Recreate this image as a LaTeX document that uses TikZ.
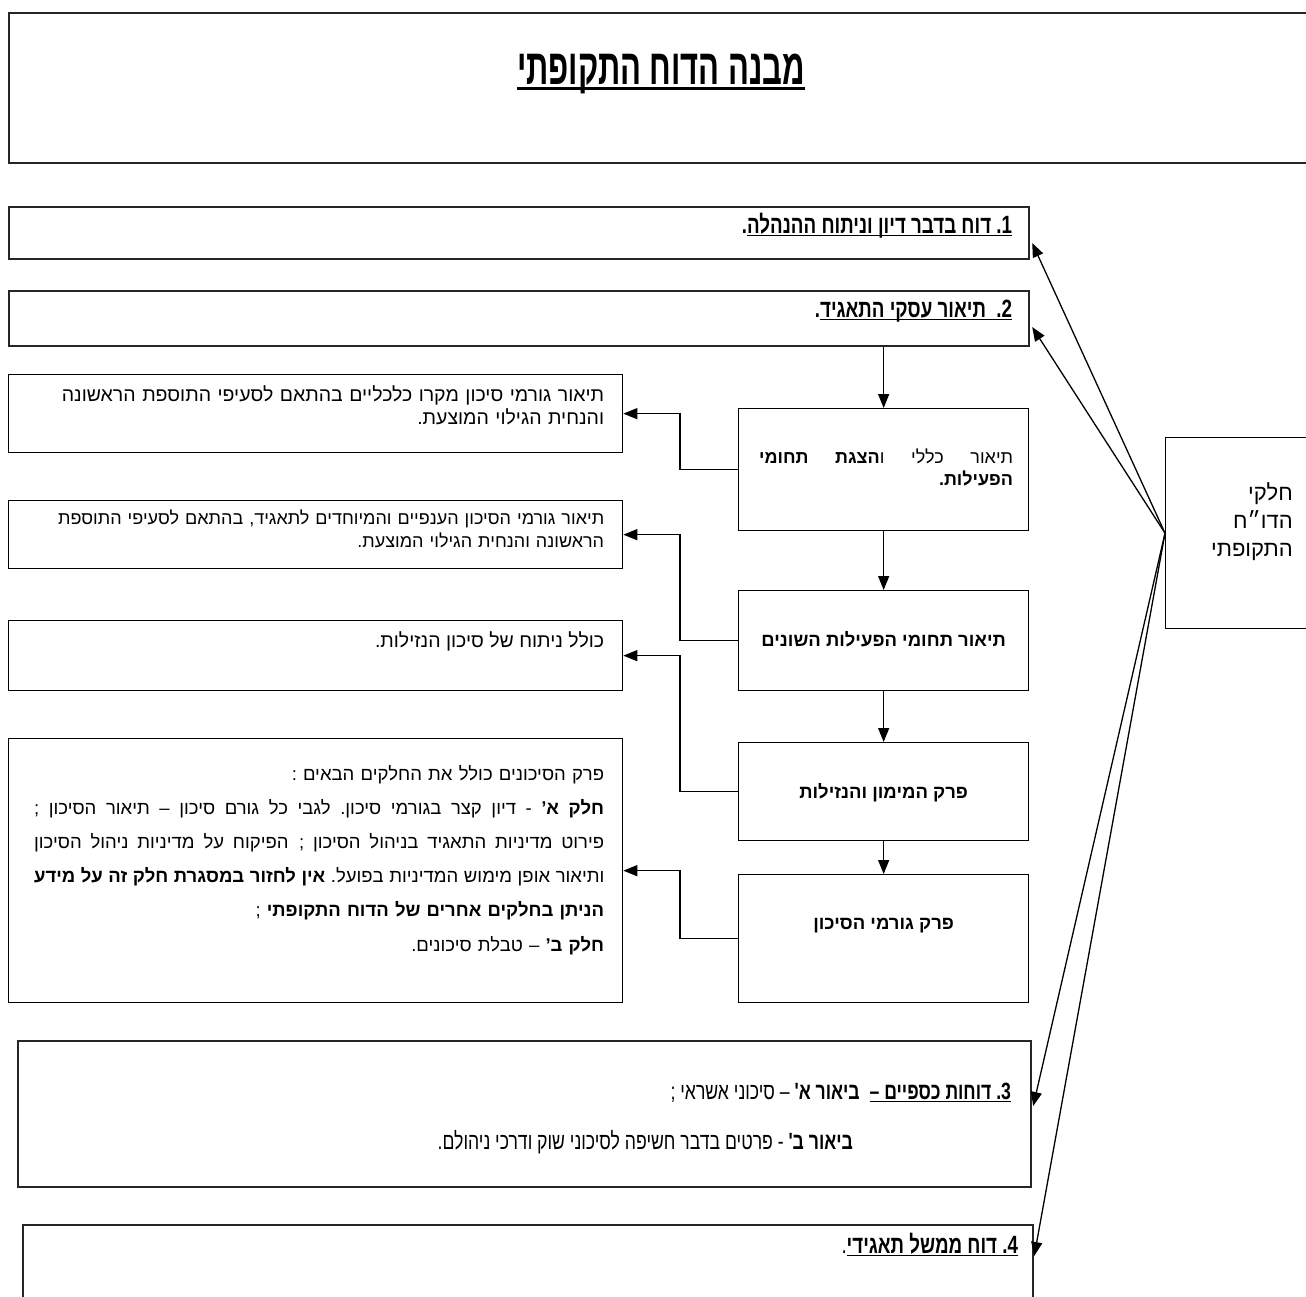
\documentclass[tikz,border=0pt]{standalone}
\usepackage{fontspec}
\setmainfont[Script=Hebrew]{Liberation Sans}
\newfontfamily\narrowfont[Script=Hebrew,FakeStretch=0.75]{Liberation Sans}
\newfontfamily\titlefont[Script=Hebrew,FakeStretch=0.62]{Liberation Sans}
\usetikzlibrary{arrows.meta,positioning,calc}
\TeXXeTstate=1

% right-to-left helpers
\newcommand{\heb}[1]{\beginR #1\endR}
\newcommand{\jline}[1]{\leavevmode\hbox to \hsize{\spaceskip=.3em plus 1fil\beginR #1\endR}}
\newcommand{\rdot}{\hbox{.}}
\newcommand{\rcom}{\hbox{,}}
\newcommand{\rap}{\hbox{'}}
\newcommand{\ulbox}[3]{\hbox{\setbox0=\hbox{#3}\rlap{\rule[-#2]{\wd0}{#1}}\box0}}
\newcommand{\headfont}{\narrowfont\bfseries\fontsize{25}{30}\selectfont}
\newcommand{\boldbox}{\bfseries\fontsize{18.5}{22}\selectfont}

\begin{document}
\begin{tikzpicture}[x=1pt,y=-1pt,
    box/.style={draw,line width=1.3pt,inner sep=0pt,anchor=north west},
    heavybox/.style={box,draw=black!85,line width=2.2pt},
    txt/.style={inner sep=0pt,anchor=base east,align=right},
    link/.style={->,line width=1.3pt},
    >={Triangle[length=14pt,width=11pt]}
]
\useasboundingbox (0,0) rectangle (1306,1296);

% frames
\node[heavybox,minimum width=1304pt,minimum height=150pt] (title) at (8,12) {};
\node[heavybox,minimum width=1020pt,minimum height=52pt] (sec1) at (8,206) {};
\node[heavybox,minimum width=1020pt,minimum height=55pt] (sec2) at (8,290) {};
\node[box,minimum width=614pt,minimum height=78pt] (macro) at (8,374) {};
\node[box,minimum width=290pt,minimum height=122pt] (general) at (738,408) {};
\node[box,minimum width=614pt,minimum height=68pt] (sector) at (8,500) {};
\node[box,minimum width=290pt,minimum height=100pt] (areas) at (738,590) {};
\node[box,minimum width=614pt,minimum height=70pt] (liquid) at (8,620) {};
\node[box,minimum width=290pt,minimum height=98pt] (finance) at (738,742) {};
\node[box,minimum width=614pt,minimum height=264pt] (riskinfo) at (8,738) {};
\node[box,minimum width=290pt,minimum height=128pt] (risk) at (738,874) {};
\node[heavybox,minimum width=1013pt,minimum height=146pt] (sec3) at (17,1040) {};
\node[heavybox,minimum width=1010pt,minimum height=90pt] (sec4) at (22,1224) {};
\node[box,minimum width=150pt,minimum height=191pt] (parts) at (1165,437) {};

% texts
\node[inner sep=0pt,anchor=base,font={\titlefont\bfseries\fontsize{50}{56}\selectfont}] (titletxt)
    at ($(title.north)+(0,72)$) {\ulbox{3.5pt}{6pt}{\heb{מבנה הדוח התקופתי}}};
\node[txt,font=\headfont] (sec1txt) at ($(sec1.north east)+(-18,27)$)
    {\heb{\ulbox{1.3pt}{3pt}{\heb{\hbox{1}\rdot{} דוח בדבר דיון וניתוח ההנהלה}}\rdot}};
\node[txt,font=\headfont] (sec2txt) at ($(sec2.north east)+(-18,27)$)
    {\heb{\ulbox{1.3pt}{3pt}{\heb{\hbox{2}\rdot{}\ \ תיאור עסקי התאגיד}}\rdot}};
\node[txt,text width=580pt,font={\fontsize{19.5}{23}\selectfont}] (macrotxt) at ($(macro.north east)+(-19,27)$)
    {\heb{תיאור גורמי סיכון מקרו כלכליים בהתאם לסעיפי התוספת הראשונה}\\
     \heb{והנחית הגילוי המוצעת\rdot}};
\node[txt,text width=254pt,font={\fontsize{18}{22}\selectfont}] (generaltxt) at ($(general.north east)+(-16,55)$)
    {\jline{תיאור כללי ו\textbf{הצגת תחומי}}\\
     \heb{\textbf{הפעילות\rdot}}};
\node[txt,text width=596pt,font={\fontsize{18}{23}\selectfont}] (sectortxt) at ($(sector.north east)+(-19,24)$)
    {\heb{תיאור גורמי הסיכון הענפיים והמיוחדים לתאגיד\rcom{} בהתאם לסעיפי התוספת}\\
     \heb{הראשונה והנחית הגילוי המוצעת\rdot}};
\node[txt,anchor=base,font=\boldbox] (areastxt) at ($(areas.north)+(0,56)$)
    {\heb{תיאור תחומי הפעילות השונים}};
\node[txt,font={\fontsize{19.5}{23}\selectfont}] (liquidtxt) at ($(liquid.north east)+(-19,27)$)
    {\heb{כולל ניתוח של סיכון הנזילות\rdot}};
\node[txt,anchor=base,font=\boldbox] (financetxt) at ($(finance.north)+(0,56)$)
    {\heb{פרק המימון והנזילות}};
\node[txt,text width=570pt,font={\fontsize{18.5}{34.2}\selectfont}] (riskinfotxt) at ($(riskinfo.north east)+(-19,42)$)
    {\heb{פרק הסיכונים כולל את החלקים הבאים :}\\
     \jline{\textbf{חלק א\rap} - דיון קצר בגורמי סיכון\rdot{} לגבי כל גורם סיכון – תיאור הסיכון ;}\\
     \jline{פירוט מדיניות התאגיד בניהול הסיכון ; הפיקוח על מדיניות ניהול הסיכון}\\
     \jline{ותיאור אופן מימוש המדיניות בפועל\rdot{} \textbf{אין לחזור במסגרת חלק זה על מידע}}\\
     \heb{\textbf{הניתן בחלקים אחרים של הדוח התקופתי} ;}\\
     \heb{\textbf{חלק ב\rap} – טבלת סיכונים\rdot}};
\node[txt,anchor=base,font=\boldbox] (risktxt) at ($(risk.north)+(0,55)$)
    {\heb{פרק גורמי הסיכון}};
\node[txt,font={\narrowfont\fontsize{23.5}{28}\selectfont}] (sec3txta) at ($(sec3.north east)+(-21,59)$)
    {\heb{\ulbox{1.3pt}{3pt}{\heb{\textbf{\hbox{3}\rdot{} דוחות כספיים –}}}\textbf{\ \ ביאור א\rap} – סיכוני אשראי ;}};
\node[txt,font={\narrowfont\fontsize{23.5}{28}\selectfont}] (sec3txtb) at ($(sec3.north east)+(-179,109)$)
    {\heb{\textbf{ביאור ב\rap} - פרטים בדבר חשיפה לסיכוני שוק ודרכי ניהולם\rdot}};
\node[txt,font=\headfont] (sec4txt) at ($(sec4.north east)+(-16,29)$)
    {\heb{\ulbox{1.3pt}{3pt}{\heb{\hbox{4}\rdot{} דוח ממשל תאגידי}}{\mdseries\rdot}}};
\node[txt,text width=130pt,font={\fontsize{22}{28}\selectfont}] (partstxt) at ($(parts.north west)+(128,63)$)
    {\heb{חלקי}\\ \heb{הדו״ח}\\ \heb{התקופתי}};

% main flow
\draw[link] (general.north |- sec2.south) -- (general.north);
\draw[link] (general.south) -- (areas.north);
\draw[link] (areas.south) -- (finance.north);
\draw[link] (finance.south) -- (risk.north);

% side branches
\draw[link] (general.west) -- ++(-58,0) |- (macro.east);
\draw[link] (areas.west) -- ++(-58,0) |- (sector.east);
\draw[link] (finance.west) -- ++(-58,0) |- (liquid.east);
\draw[link] (risk.west) -- ++(-58,0) |- (riskinfo.east);

% fan from the parts box
\coordinate (in1) at ($(sec1.north east)+(2,37)$);
\coordinate (in2) at ($(sec2.north east)+(2,37)$);
\coordinate (in3) at ($(sec3.north east)+(1,66)$);
\coordinate (in4) at ($(sec4.north east)+(0,32)$);
\foreach \t in {in1,in2,in3,in4}
    \draw[link] (parts.west) -- (\t);
\end{tikzpicture}
\end{document}
